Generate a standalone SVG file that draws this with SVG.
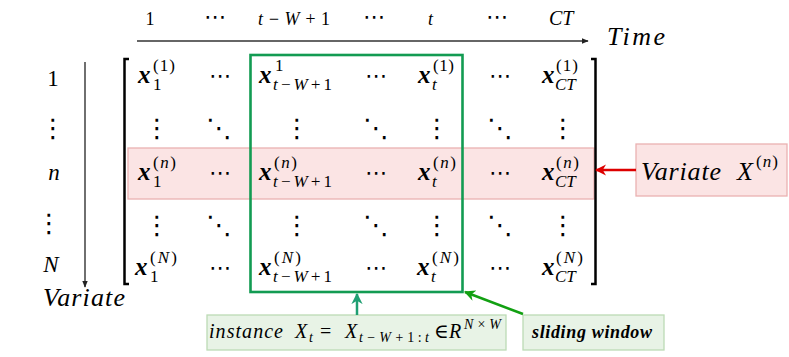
<svg xmlns="http://www.w3.org/2000/svg" width="789" height="357" viewBox="0 0 789 357">
<defs>
<style>
text{font-family:"Liberation Serif","DejaVu Serif",serif;fill:#000}
.it{font-style:italic}
.hd{font-size:18px}
.mx{font-weight:bold;font-style:italic;font-size:25px}
.sc{font-size:17px}
.dt{font-family:"DejaVu Sans",sans-serif;font-size:22px;text-anchor:middle}
.vd{font-family:"DejaVu Sans",sans-serif;font-size:26px;text-anchor:middle}
.lb{font-size:23px;text-anchor:middle}
.big{font-size:26px}
.md{font-size:20px}
.ss{font-size:14px}
.pink{fill:#fbe4e4;stroke:#eab1b1;stroke-width:1.3}
.gbox{fill:#e8f3e6;stroke:#bcdbb5;stroke-width:1.3}
</style>
<marker id="ab" viewBox="0 0 10 10" refX="9" refY="5" markerWidth="7" markerHeight="7" markerUnits="userSpaceOnUse" orient="auto"><path d="M0,1 L10,5 L0,9 Z" fill="#222"/></marker>
<marker id="ar" viewBox="0 0 10 10" refX="9" refY="5" markerWidth="4.5" markerHeight="4.5" orient="auto"><path d="M0,0 L10,5 L0,10 L3,5 Z" fill="#dd0000"/></marker>
<marker id="ag" viewBox="0 0 10 10" refX="9" refY="5" markerWidth="4.5" markerHeight="4.5" orient="auto"><path d="M0,0 L10,5 L0,10 L3,5 Z" fill="#12a012"/></marker>
<marker id="at" viewBox="0 0 10 10" refX="9" refY="5" markerWidth="4.5" markerHeight="4.5" orient="auto"><path d="M0,0 L10,5 L0,10 L3,5 Z" fill="#1f9f72"/></marker>
</defs>
<rect width="789" height="357" fill="#fff"/>

<g id="time-axis">
<text class="hd" x="150" y="25" text-anchor="middle">1</text>
<text class="dt" x="215" y="24">⋯</text>
<text class="hd it" x="258" y="25" textLength="72" lengthAdjust="spacing">t − W + <tspan font-style="normal">1</tspan></text>
<text class="dt" x="374" y="24">⋯</text>
<text class="hd it" x="428" y="25">t</text>
<text class="dt" x="497" y="24">⋯</text>
<text class="it" x="549" y="25" font-size="20">CT</text>
<text class="big it" x="607" y="45" textLength="58" lengthAdjust="spacing">Time</text>
</g>

<g id="variate-axis">
<text class="lb" x="53" y="86">1</text>
<text class="vd" x="53" y="137">⋮</text>
<text class="lb it" x="54" y="180">n</text>
<text class="vd" x="49" y="232">⋮</text>
<text class="lb it" x="51" y="272">N</text>
<text class="big it" x="43" y="306" textLength="82" lengthAdjust="spacing">Variate</text>
</g>

<g id="row-highlight">
<rect class="pink" x="128" y="148" width="466" height="51"/>
</g>

<g id="matrix">
<path d="M129,59 H124.5 V284 H129" fill="none" stroke="#000" stroke-width="2.5"/>
<path d="M591,59 H595.5 V284 H591" fill="none" stroke="#000" stroke-width="2.5"/>
<!-- row 1 -->
<g transform="translate(138,83)"><text class="mx">x</text><text class="sc" x="15" y="-12" textLength="22" lengthAdjust="spacing">(1)</text><text class="sc" x="15" y="7">1</text></g>
<text class="dt" x="220" y="83">⋯</text>
<g transform="translate(259,83)"><text class="mx">x</text><text class="sc" x="16" y="-12">1</text><text class="sc it" x="14" y="7" textLength="59" lengthAdjust="spacing">t−W+<tspan font-style="normal">1</tspan></text></g>
<text class="dt" x="376" y="83">⋯</text>
<g transform="translate(418,83)"><text class="mx">x</text><text class="sc" x="15" y="-12" textLength="21" lengthAdjust="spacing">(1)</text><text class="sc it" x="14" y="7">t</text></g>
<text class="dt" x="500" y="83">⋯</text>
<g transform="translate(542,83)"><text class="mx">x</text><text class="sc" x="14" y="-12" textLength="22" lengthAdjust="spacing">(1)</text><text class="sc it" x="13" y="7" font-size="18">CT</text></g>
<!-- row 2 dots -->
<text class="vd" x="157" y="137">⋮</text>
<text class="vd" x="219" y="137">⋱</text>
<text class="vd" x="297" y="137">⋮</text>
<text class="vd" x="376" y="137">⋱</text>
<text class="vd" x="437" y="137">⋮</text>
<text class="vd" x="500" y="137">⋱</text>
<text class="vd" x="563" y="137">⋮</text>
<!-- row n -->
<g transform="translate(138,180)"><text class="mx">x</text><text class="sc" x="15" y="-12" textLength="23" lengthAdjust="spacing">(<tspan class="it">n</tspan>)</text><text class="sc" x="15" y="7">1</text></g>
<text class="dt" x="220" y="180">⋯</text>
<g transform="translate(259,180)"><text class="mx">x</text><text class="sc" x="15" y="-12" textLength="23" lengthAdjust="spacing">(<tspan class="it">n</tspan>)</text><text class="sc it" x="14" y="7" textLength="59" lengthAdjust="spacing">t−W+<tspan font-style="normal">1</tspan></text></g>
<text class="dt" x="376" y="180">⋯</text>
<g transform="translate(418,180)"><text class="mx">x</text><text class="sc" x="15" y="-12" textLength="23" lengthAdjust="spacing">(<tspan class="it">n</tspan>)</text><text class="sc it" x="14" y="7">t</text></g>
<text class="dt" x="500" y="180">⋯</text>
<g transform="translate(542,180)"><text class="mx">x</text><text class="sc" x="14" y="-12" textLength="23" lengthAdjust="spacing">(<tspan class="it">n</tspan>)</text><text class="sc it" x="13" y="7" font-size="18">CT</text></g>
<!-- row 4 dots -->
<text class="vd" x="157" y="234">⋮</text>
<text class="vd" x="219" y="234">⋱</text>
<text class="vd" x="297" y="234">⋮</text>
<text class="vd" x="376" y="234">⋱</text>
<text class="vd" x="437" y="234">⋮</text>
<text class="vd" x="500" y="234">⋱</text>
<text class="vd" x="563" y="234">⋮</text>
<!-- row N -->
<g transform="translate(135,275)"><text class="mx">x</text><text class="sc" x="15" y="-12" textLength="27" lengthAdjust="spacing">(<tspan class="it">N</tspan>)</text><text class="sc" x="15" y="7">1</text></g>
<text class="dt" x="220" y="275">⋯</text>
<g transform="translate(259,275)"><text class="mx">x</text><text class="sc" x="15" y="-12" textLength="27" lengthAdjust="spacing">(<tspan class="it">N</tspan>)</text><text class="sc it" x="14" y="7" textLength="59" lengthAdjust="spacing">t−W+<tspan font-style="normal">1</tspan></text></g>
<text class="dt" x="376" y="275">⋯</text>
<g transform="translate(417,275)"><text class="mx">x</text><text class="sc" x="15" y="-12" textLength="27" lengthAdjust="spacing">(<tspan class="it">N</tspan>)</text><text class="sc it" x="14" y="7">t</text></g>
<text class="dt" x="500" y="275">⋯</text>
<g transform="translate(542,275)"><text class="mx">x</text><text class="sc" x="14" y="-12" textLength="27" lengthAdjust="spacing">(<tspan class="it">N</tspan>)</text><text class="sc it" x="13" y="7" font-size="18">CT</text></g>
</g>

<g id="sliding-window-box">
<rect x="250.5" y="55" width="212" height="237" fill="none" stroke="#129b52" stroke-width="2.6"/>
</g>

<g id="variate-label">
<rect class="pink" x="636" y="144" width="151" height="52"/>
<text class="big it" x="641" y="180" textLength="80" lengthAdjust="spacing">Variate</text>
<text class="big it" x="737" y="180" font-size="27">X</text>
<text class="sc" x="756" y="167" textLength="22" lengthAdjust="spacing">(<tspan class="it">n</tspan>)</text>
</g>

<g id="instance-label">
<rect class="gbox" x="207" y="315" width="299" height="35"/>
<text class="md it" x="209" y="338" textLength="74" lengthAdjust="spacing">instance</text>
<text class="md it" x="295" y="338">X</text><text class="ss it" x="309" y="342">t</text>
<text class="md" x="320" y="338">=</text>
<text class="md it" x="345" y="338">X</text><text class="ss it" x="359" y="342" textLength="70" lengthAdjust="spacing">t−W+<tspan font-style="normal">1:</tspan>t</text>
<text class="md" x="434" y="338">∈</text>
<text class="md it" x="449" y="338">R</text><text class="ss it" x="464" y="329" textLength="37" lengthAdjust="spacing">N<tspan font-style="normal">×</tspan>W</text>
</g>

<g id="sliding-window-label">
<rect class="gbox" x="523" y="315" width="141" height="35"/>
<text class="it" x="532" y="338" font-size="18" font-weight="bold" textLength="120" lengthAdjust="spacing">sliding window</text>
</g>

<g id="connectors">
<line x1="137" y1="41" x2="588" y2="41" stroke="#333" stroke-width="1.3" marker-end="url(#ab)"/>
<line x1="85" y1="62" x2="85" y2="287" stroke="#222" stroke-width="1.3" marker-end="url(#ab)"/>
<line x1="636" y1="170" x2="596" y2="170" stroke="#dd0000" stroke-width="2.5" marker-end="url(#ar)"/>
<line x1="357" y1="315" x2="357" y2="294" stroke="#1f9f72" stroke-width="2.5" marker-end="url(#at)"/>
<line x1="523" y1="314" x2="465" y2="292" stroke="#12a012" stroke-width="2.5" marker-end="url(#ag)"/>
</g>
</svg>
